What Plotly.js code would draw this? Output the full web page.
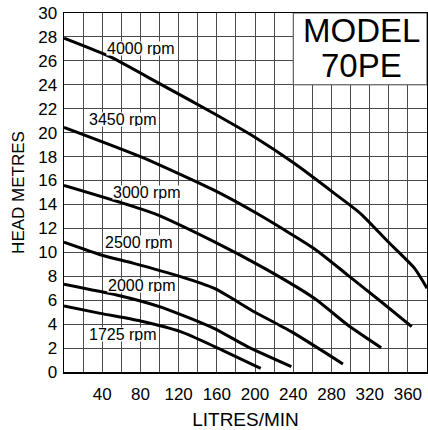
<!DOCTYPE html>
<html>
<head>
<meta charset="utf-8">
<script src="https://cdn.plot.ly/plotly-3.0.1.min.js"></script>
<style>html,body{margin:0;padding:0;background:#fff;}#chart{width:428px;height:430px;}</style>
</head>
<body>
<div id="chart"></div>
<script>
// Data
const rpm4000_x = [0, 48, 100, 157, 199, 241, 283, 311, 339, 367, 380];
const rpm4000_y = [27.9, 26.35, 24.1, 21.6, 19.66, 17.44, 14.93, 13.2, 10.9, 8.66, 7.0];
const rpm3450_x = [0, 80, 157, 203, 262, 297, 332, 364];
const rpm3450_y = [20.45, 18.0, 15.2, 13.2, 10.3, 8.1, 5.87, 3.79];
const rpm3000_x = [0, 94, 157, 210, 262, 297, 332];
const rpm3000_y = [15.6, 13.26, 10.9, 8.66, 6.16, 3.93, 2.03];
const rpm2500_x = [0, 38, 73, 122, 157, 199, 238, 292];
const rpm2500_y = [10.84, 9.8, 9.08, 7.97, 7.0, 5.04, 3.37, 0.67];
const rpm2000_x = [0, 55, 80, 108, 157, 192, 238];
const rpm2000_y = [7.33, 6.43, 5.93, 5.24, 3.65, 2.12, 0.45];
const rpm1725_x = [0, 38, 80, 122, 157, 206];
const rpm1725_y = [5.52, 4.9, 4.26, 3.37, 2.15, 0.3];

const curveNames = ['4000 rpm', '3450 rpm', '3000 rpm', '2500 rpm', '2000 rpm', '1725 rpm'];
const curveXs = [rpm4000_x, rpm3450_x, rpm3000_x, rpm2500_x, rpm2000_x, rpm1725_x];
const curveYs = [rpm4000_y, rpm3450_y, rpm3000_y, rpm2500_y, rpm2000_y, rpm1725_y];
const labelX = [81, 62, 87, 78, 82, 62];
const labelY = [27.0, 21.14, 15.0, 10.84, 7.25, 3.15];

const xGridVals = [0,20,40,60,80,100,120,140,160,180,200,220,240,260,280,300,320,340,360,380];
const xTickText = ['','','40','','80','','120','','160','','200','','240','','280','','320','','360',''];
const yTickVals = [0,2,4,6,8,10,12,14,16,18,20,22,24,26,28,30];

const modelTitle = ['MODEL', '70PE'];

const FONT = 'Liberation Sans, Arial, sans-serif';
const GRID = '#4a4a4a';

const traces = curveNames.map((n, i) => ({
  x: curveXs[i], y: curveYs[i], name: n, type: 'scatter', mode: 'lines',
  line: {color: '#000', width: 3, shape: 'spline', smoothing: 0.6},
  hoverinfo: 'skip'
}));

const annotations = curveNames.map((n, i) => ({
  x: labelX[i], y: labelY[i], xref: 'x', yref: 'y', text: n, showarrow: false,
  font: {family: FONT, size: 16, color: '#000'}, bgcolor: '#fff', borderpad: 0, height: 13
}));
annotations.push({x: 311, y: 28.5, xref: 'x', yref: 'y', text: modelTitle[0], showarrow: false,
  font: {family: FONT, size: 33, color: '#000'}});
annotations.push({x: 311, y: 25.6, xref: 'x', yref: 'y', text: modelTitle[1], showarrow: false,
  font: {family: FONT, size: 33, color: '#000'}});

const layout = {
  width: 428, height: 430,
  margin: {l: 64, r: 1, t: 13, b: 58},
  paper_bgcolor: '#fff', plot_bgcolor: '#fff',
  showlegend: false,
  font: {family: FONT, color: '#000'},
  xaxis: {
    range: [0, 380], tickmode: 'array', tickvals: xGridVals, ticktext: xTickText,
    showgrid: true, gridcolor: GRID, gridwidth: 1, zeroline: false,
    showline: true, linecolor: '#000', linewidth: 1.5, mirror: true,
    ticks: '', ticklabelstandoff: 6,
    tickfont: {family: FONT, size: 17, color: '#000'},
    title: {text: 'LITRES/MIN', font: {family: FONT, size: 19, color: '#000'}, standoff: 16}
  },
  yaxis: {
    range: [0, 30], tickmode: 'array', tickvals: yTickVals,
    showgrid: true, gridcolor: GRID, gridwidth: 1, zeroline: false,
    showline: true, linecolor: '#000', linewidth: 1.5, mirror: true,
    ticks: '', ticklabelstandoff: 2,
    tickfont: {family: FONT, size: 17, color: '#000'},
    title: {text: 'HEAD METRES', font: {family: FONT, size: 17, color: '#000'}, standoff: 9}
  },
  shapes: [{type: 'rect', xref: 'x', yref: 'y', x0: 240, x1: 380, y0: 24, y1: 30,
    fillcolor: '#fff', line: {color: GRID, width: 1}, layer: 'between'}],
  annotations: annotations
};

Plotly.newPlot('chart', traces, layout, {displayModeBar: false, staticPlot: true});
</script>
</body>
</html>
